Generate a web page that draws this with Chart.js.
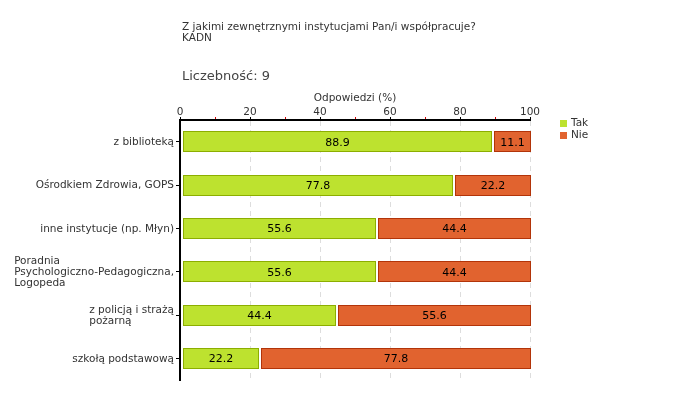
<!DOCTYPE html>
<html><head><meta charset="utf-8">
<script src="https://cdn.jsdelivr.net/npm/chart.js@4.4.0/dist/chart.umd.min.js"></script>
<style>
body{margin:0;background:#fff;}
#wrap{position:relative;width:680px;height:400px;}
.t{position:absolute;left:182px;font-family:"DejaVu Sans";color:#333;white-space:nowrap;}
</style></head><body>
<div id="wrap">
<canvas id="c" width="680" height="400"></canvas>
<div class="t" style="top:21px;font-size:10.5px;line-height:11px;">Z jakimi zewnętrznymi instytucjami Pan/i współpracuje?<br>KADN</div>
<div class="t" style="top:68px;font-size:13px;line-height:15px;color:#444;">Liczebność: 9</div>
</div>
<script>
const categories = [
  ['z biblioteką'],
  ['Ośrodkiem Zdrowia, GOPS'],
  ['inne instytucje (np. Młyn)'],
  ['Poradnia', 'Psychologiczno-Pedagogiczna,', 'Logopeda'],
  ['z policją i strażą', 'pożarną'],
  ['szkołą podstawową']
];
const seriesNames = ['Tak', 'Nie'];
const takValues = [88.9, 77.8, 55.6, 55.6, 44.4, 22.2];
const nieValues = [11.1, 22.2, 44.4, 44.4, 55.6, 77.8];
const xTickLabels = [0, 20, 40, 60, 80, 100];
const axisTitle = 'Odpowiedzi (%)';

const FONT = '"DejaVu Sans"';

function segRect(el, di) {
  const p = el.getProps(['x', 'y', 'base', 'height'], true);
  const l = Math.min(p.x, p.base), r = Math.max(p.x, p.base);
  const x0 = Math.round(l) + (di === 0 ? 2 : 3), x1 = Math.round(r) + 1;
  const h = Math.round(p.height);
  const y0 = Math.round(p.y - p.height / 2);
  return { x0, x1, y0, h, yc: p.y };
}

const barPlugin = {
  id: 'customBars',
  beforeDatasetDraw(chart, args) {
    const ctx = chart.ctx;
    const ds = chart.data.datasets[args.index];
    ctx.save();
    args.meta.data.forEach(el => {
      const q = segRect(el, args.index);
      ctx.fillStyle = ds.backgroundColor;
      ctx.fillRect(q.x0, q.y0, q.x1 - q.x0, q.h);
      ctx.strokeStyle = ds.borderColor;
      ctx.lineWidth = 1;
      ctx.strokeRect(q.x0 + 0.5, q.y0 + 0.5, q.x1 - q.x0 - 1, q.h - 1);
    });
    ctx.restore();
    return false;
  },
  afterDatasetsDraw(chart) {
    const ctx = chart.ctx;
    ctx.save();
    ctx.font = '11px ' + FONT;
    ctx.fillStyle = '#000';
    ctx.textAlign = 'center';
    ctx.textBaseline = 'middle';
    chart.data.datasets.forEach((ds, di) => {
      chart.getDatasetMeta(di).data.forEach((el, i) => {
        const q = segRect(el, di);
        ctx.fillText(ds.data[i].toFixed(1), (q.x0 + q.x1) / 2, q.yc + 1);
      });
    });
    ctx.restore();
  },
  afterDraw(chart) {
    const ctx = chart.ctx;
    const ys = chart.scales.y;
    ctx.save();
    ctx.font = '10.5px ' + FONT;
    ctx.fillStyle = '#333';
    ctx.textAlign = 'left';
    ctx.textBaseline = 'middle';
    const lh = 10.8;
    chart.data.labels.forEach((lines, i) => {
      const yc = ys.getPixelForTick(i);
      const w = Math.max(...lines.map(s => ctx.measureText(s).width));
      const x = ys.right - 6 - w;
      const y0 = yc - (lines.length - 1) * lh / 2;
      lines.forEach((s, k) => ctx.fillText(s, x, y0 + k * lh + 0.5));
    });
    // legend
    chart.data.datasets.forEach((ds, i) => {
      const y = 123.5 + i * 12;
      ctx.fillStyle = ds.backgroundColor;
      ctx.fillRect(560, Math.round(y - 3.5), 7, 7);
      ctx.fillStyle = '#333';
      ctx.fillText(ds.label, 571, y);
    });
    ctx.restore();
  }
};

new Chart(document.getElementById('c'), {
  type: 'bar',
  data: {
    labels: categories,
    datasets: [
      { label: seriesNames[0], data: takValues, backgroundColor: '#bde22f', borderColor: '#8cae00', barThickness: 21 },
      { label: seriesNames[1], data: nieValues, backgroundColor: '#e1632f', borderColor: '#b23409', barThickness: 21 }
    ]
  },
  options: {
    indexAxis: 'y',
    responsive: false,
    devicePixelRatio: 1,
    animation: false,
    layout: { padding: { left: 0, top: 0, right: 150, bottom: 20 } },
    plugins: { legend: { display: false }, tooltip: { enabled: false } },
    scales: {
      x: {
        position: 'top',
        stacked: true,
        min: 0, max: 100,
        afterFit: s => { s.height = 120; },
        ticks: {
          stepSize: 10, autoSkip: false, maxRotation: 0,
          padding: -1,
          font: { family: FONT, size: 10.5, lineHeight: 1 },
          color: '#333',
          callback: v => xTickLabels.includes(v) ? String(v) : ''
        },
        title: {
          display: true, text: axisTitle, color: '#333',
          font: { family: FONT, size: 10.5, lineHeight: 1.2 },
          padding: { top: 92, bottom: 0 }
        },
        grid: {
          drawOnChartArea: true,
          tickLength: 3,
          lineWidth: 1,
          color: c => (c.tick && c.tick.value % 20 === 0 && c.tick.value !== 0) ? '#dddddd' : 'rgba(0,0,0,0)',
          tickColor: c => (c.tick && c.tick.value % 20 === 0) ? '#000' : '#d40000'
        },
        border: { display: true, color: '#000', width: 2, dash: [5, 4] }
      },
      y: {
        stacked: true,
        afterFit: s => { s.width = 180; },
        ticks: { display: false },
        grid: { drawOnChartArea: false, offset: false, tickLength: 4, color: '#000', tickColor: '#000' },
        border: { display: true, color: '#000', width: 2 }
      }
    }
  },
  plugins: [barPlugin]
});
</script>
</body></html>
